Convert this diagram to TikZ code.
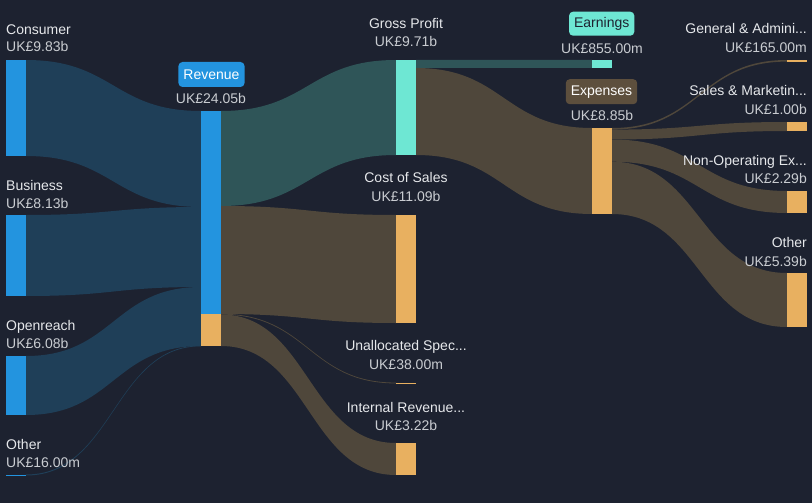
\documentclass[tikz,border=0pt]{standalone}
\usepackage{fontspec}
\setmainfont{Liberation Sans}
\definecolor{bg}{HTML}{1D2230}
\definecolor{barblue}{HTML}{2394DF}
\definecolor{barteal}{HTML}{6EE7D3}
\definecolor{barorange}{HTML}{E8B060}
\definecolor{flowblue}{HTML}{1F3F58}
\definecolor{flowteal}{HTML}{2F5558}
\definecolor{flowbrown}{HTML}{4F473B}
\definecolor{boxbrown}{HTML}{5D4F3D}
\definecolor{nametext}{HTML}{E6E8EB}
\definecolor{valtext}{HTML}{C9CCD1}
\newcommand{\flowband}[7]{%
  \pgfmathsetmacro{\bandmid}{(#2+#5)/2}%
  \fill[#1] (#2,#3) .. controls (\bandmid,#3) and (\bandmid,#6) .. (#5,#6) -- (#5,#7) .. controls (\bandmid,#7) and (\bandmid,#4) .. (#2,#4) -- cycle;}
\tikzset{
  bar/.style={draw=none, inner sep=0, minimum width=20pt, anchor=north west},
  nm/.style={text=nametext, inner sep=0, font=\fontsize{14}{16}\selectfont},
  val/.style={text=valtext, inner sep=0, font=\fontsize{14}{16}\selectfont},
  tag/.style={rounded corners=4pt, inner xsep=5pt, inner ysep=0, minimum height=25pt, font=\fontsize{14}{16}\selectfont}
}
\begin{document}
\begin{tikzpicture}[x=1pt, y=-1pt]
\fill[bg] (0,0) rectangle (812,503);
\useasboundingbox (0,0) rectangle (812,503);

\flowband{flowblue}{26}{60}{156}{201}{111}{207}
\flowband{flowblue}{26}{215}{296}{201}{207}{287}
\flowband{flowblue}{26}{356}{415}{201}{287}{346}
\flowband{flowblue}{26}{474.5}{475.5}{201}{345.5}{346.3}
\flowband{flowteal}{221}{111}{206}{396}{60}{155}
\flowband{flowbrown}{221}{206}{314}{396}{215}{323}
\flowband{flowbrown}{221}{313.8}{314.6}{396}{382.6}{383.4}
\flowband{flowbrown}{221}{314.5}{346}{396}{443}{475}
\flowband{flowteal}{416}{60}{68}{592}{60}{68}
\flowband{flowbrown}{416}{68}{155}{592}{128}{214}
\flowband{flowbrown}{612}{128}{129.6}{787}{60}{61.6}
\flowband{flowbrown}{612}{129.6}{139.5}{787}{122}{131}
\flowband{flowbrown}{612}{139.5}{161.7}{787}{191}{213}
\flowband{flowbrown}{612}{161.7}{214}{787}{273}{327}

\node[bar, fill=barblue, minimum height=96pt] (consumer) at (6,60) {};
\node[bar, fill=barblue, minimum height=81pt] (business) at (6,215) {};
\node[bar, fill=barblue, minimum height=59pt] (openreach) at (6,356) {};
\node[bar, fill=barblue, minimum height=1.4pt] (otherin) at (6,474.5) {};
\node[bar, fill=barblue, minimum height=203pt] (revenue) at (201,111) {};
\node[bar, fill=barorange, minimum height=32pt] (revrest) at (201,314) {};
\node[bar, fill=barteal, minimum height=95pt] (gross) at (396,60) {};
\node[bar, fill=barorange, minimum height=108pt] (cost) at (396,215) {};
\node[bar, fill=barorange, minimum height=1.4pt] (unalloc) at (396,382.5) {};
\node[bar, fill=barorange, minimum height=32pt] (internal) at (396,443) {};
\node[bar, fill=barteal, minimum height=8pt] (earnings) at (592,60) {};
\node[bar, fill=barorange, minimum height=86pt] (expenses) at (592,128) {};
\node[bar, fill=barorange, minimum height=1.6pt] (genadmin) at (787,60) {};
\node[bar, fill=barorange, minimum height=9pt] (sales) at (787,122) {};
\node[bar, fill=barorange, minimum height=22pt] (nonop) at (787,191) {};
\node[bar, fill=barorange, minimum height=54pt] (otherout) at (787,273) {};

\node[nm, anchor=base west] (consumername) at (6,35) {Consumer};
\node[val, anchor=base west] (consumerval) at (6,52) {UK£9.83b};
\node[nm, anchor=base west] (businessname) at (6,190) {Business};
\node[val, anchor=base west] (businessval) at (6,208) {UK£8.13b};
\node[nm, anchor=base west] (openreachname) at (6,330) {Openreach};
\node[val, anchor=base west] (openreachval) at (6,348) {UK£6.08b};
\node[nm, anchor=base west] (otherinname) at (6,449) {Other};
\node[val, anchor=base west] (otherinval) at (6,467.5) {UK£16.00m};

\node[tag, fill=barblue, text=white] (revenuetag) at (211.5,74.5) {Revenue};
\node[val, anchor=base] (revenueval) at (211,103.5) {UK£24.05b};

\node[nm, anchor=base] (grossname) at (406,28.3) {Gross Profit};
\node[val, anchor=base] (grossval) at (406,46.8) {UK£9.71b};
\node[nm, anchor=base] (costname) at (406,182.7) {Cost of Sales};
\node[val, anchor=base] (costval) at (406,201.5) {UK£11.09b};
\node[nm, anchor=base] (unallocname) at (406,350.7) {Unallocated Spec...};
\node[val, anchor=base] (unallocval) at (406,369.3) {UK£38.00m};
\node[nm, anchor=base] (internalname) at (406,412.3) {Internal Revenue...};
\node[val, anchor=base] (internalval) at (406,430.7) {UK£3.22b};

\node[tag, fill=barteal, text=bg, minimum height=24pt] (earningstag) at (601.7,23.7) {Earnings};
\node[val, anchor=base] (earningsval) at (602,53.3) {UK£855.00m};
\node[tag, fill=boxbrown, text=white] (expensestag) at (601.5,91.7) {Expenses};
\node[val, anchor=base] (expensesval) at (602,120.7) {UK£8.85b};

\node[nm, anchor=base east] (genadminname) at (807,33.3) {General \& Admini...};
\node[val, anchor=base east] (genadminval) at (807,52.7) {UK£165.00m};
\node[nm, anchor=base east] (salesname) at (807,95.7) {Sales \& Marketin...};
\node[val, anchor=base east] (salesval) at (807,114.3) {UK£1.00b};
\node[nm, anchor=base east] (nonopname) at (807,165) {Non-Operating Ex...};
\node[val, anchor=base east] (nonopval) at (807,183.3) {UK£2.29b};
\node[nm, anchor=base east] (otheroutname) at (807,247.3) {Other};
\node[val, anchor=base east] (otheroutval) at (807,266) {UK£5.39b};
\end{tikzpicture}
\end{document}
